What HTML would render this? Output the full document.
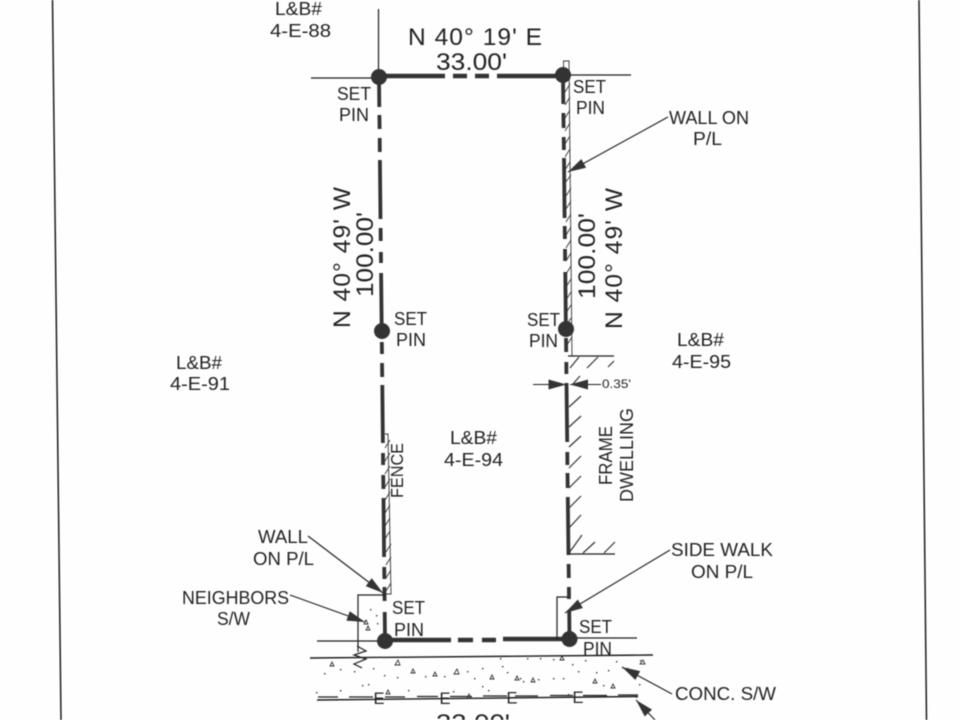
<!DOCTYPE html>
<html>
<head>
<meta charset="utf-8">
<style>
html,body{margin:0;padding:0;background:#fff;width:960px;height:720px;overflow:hidden}
svg{display:block;filter:blur(.5px)}
text{font-family:"Liberation Sans","DejaVu Sans",sans-serif;fill:#222;font-size:18.5px}
.b{font-size:24.5px}
.m{fill:none;stroke:#333;stroke-width:3.8;stroke-linecap:butt}
.t{fill:none;stroke:#1c1c1c;stroke-width:1.2}
.h{fill:none;stroke:#333;stroke-width:.9}
.a{fill:none;stroke:#1c1c1c;stroke-width:1.1;marker-end:url(#ar)}
.p{fill:#333}
.tr{fill:none;stroke:#333;stroke-width:.9}
</style>
</head>
<body>
<svg width="960" height="720" viewBox="0 0 960 720" xmlns="http://www.w3.org/2000/svg">
<defs>
<marker id="ar" markerUnits="userSpaceOnUse" markerWidth="20" markerHeight="12" refX="18" refY="5" orient="auto">
<path d="M0 0L18 5L0 10Z" fill="#333"/>
</marker>
</defs>
<rect width="960" height="720" fill="#fefefe"/>

<!-- page border -->
<path class="t" style="stroke-width:1.5" d="M52.5 0L61 720M919 0L926.5 720"/>

<!-- thin reference lines -->
<path class="t" d="M378.5 9V77M311 78H379M563 75H631M317 641H385M570 638H637"/>
<path class="t" style="stroke-width:1.4" d="M310 658L653 655"/>
<path class="t" style="stroke-width:1.4" d="M317 700L638 696.5"/>
<path class="t" d="M318 697H338M349 697H373M385 697H405M417 696.5H438M450 696.5H472M483 696H507M515 696H538M550 695.5H573M583 695.5H607M618 695H638"/>

<!-- boundary dashes -->
<path class="m" style="stroke-width:4.4" d="M379 76H445M453 76H467M475 76H489M497 76H563"/>
<path class="m" style="stroke-width:4.4" d="M385 640H451M458 640H473M482 640H496M503 639H569.5"/>
<path class="m" d="M379 77L379.3 107M379.4 115L379.6 129M379.7 138L379.8 152M379.9 160L380.5 219M380.6 228L380.7 241M380.9 252L381 263M381.1 273L381.7 330M381.8 342L382 354M382 363L382.2 377M382.3 385L382.9 443M383 453L383.1 465M383.2 475L383.4 489M383.5 498L384.1 557M384.2 567L384.4 579M384.4 587L384.6 601M384.7 612L385 640"/>
<path class="m" d="M563 75L563.3 104M563.4 113L563.6 128M563.7 137L563.9 150M564 158L564.6 218M564.7 226L564.9 239M565 249L565.1 261M565.3 272L565.9 329M566 338L566.2 352M566.3 362L566.4 374M566.5 383L567.2 442M567.3 452L567.4 465M567.5 473L567.7 488M567.8 497L568.5 555M568.6 564L568.8 578M568.9 587L569 599M569.2 610L569.5 639"/>

<!-- right wall -->
<path class="h" d="M563.5 75V61H569L572 356H568"/>
<path class="h" d="M565 92l5-8M565 105l5-8M565 118l5-8M565 131l5-8M565 144l5-8M565 157l5-8M565 170l5-8M565 183l6-8M566 196l5-8M566 209l5-8M566 222l5-8M566 235l5-8M566 248l5-8M566 261l5-8M566 274l5-8M566 287l5-8M566 300l5-8M566 313l5-8M566 326l5-8M567 345l5-8"/>

<!-- fence -->
<path class="h" d="M385 434H388L391 594H385"/>
<path class="h" d="M385 448l5-8M385 461l5-8M385 474l5-8M385 487l5-8M385 500l5-8M385 513l5-8M385 526l5-8M385 539l5-8M386 552l5-8M386 565l5-8M386 578l5-8M386 591l5-8"/>

<!-- dwelling -->
<path class="t" d="M568 356H614M569 554H615"/>
<path class="h" style="stroke-width:1.2" d="M570 368L579 357M587 368L598 357M608 367L614 361M572 385L580 376M569 407L581 396M569 427L581 416M569 447L581 436M569 468L581 456M569 488L581 476M569 508L581 496M569 528L581 515M569 553L582 535M583 553L595 542M604 553L615 542"/>

<!-- small boxes -->
<path class="t" d="M385 595H358V652"/>
<path class="t" d="M357 646L366 651L354 655L366 659L354 664L362 668"/>
<path class="t" d="M568 597H557V639"/>

<!-- pins -->
<circle class="p" cx="379" cy="77" r="8"/>
<circle class="p" cx="563" cy="75" r="8"/>
<circle class="p" cx="382" cy="331" r="8"/>
<circle class="p" cx="566" cy="329" r="8"/>
<circle class="p" cx="385" cy="641" r="8"/>
<circle class="p" cx="569.5" cy="639" r="8"/>

<!-- leaders -->
<path class="a" d="M668 117L568 172"/>
<path class="a" d="M308 536L383 593"/>
<path class="a" d="M290 595L365 622"/>
<path class="a" d="M670 550L565 613"/>
<path class="a" d="M672 694L622 667"/>
<path class="a" d="M655 720L636 700"/>
<path class="a" d="M533 384.500H566.500"/>
<path class="a" d="M601 384.500H570"/>

<!-- concrete speckle -->
<g class="tr">
<path d="M332 662l2 4h-4zM398 660l2 5h-5zM413 669l2 4h-4zM435 672l2 4h-4zM457 669l2 5h-5zM492 675l2 4h-4zM533 678l2 4h-4zM562 656l2 4h-4zM643 660l2 4h-5zM595 679l2 4h-4zM613 684l2 4h-4zM388 690l2 4h-4zM469 694l2 4h-4zM517 676l2 4h-4zM366 620l2 4h-4zM368 626l2 4h-4z"/>
</g>
<g fill="#333">
<rect x="324" y="673" width="1.400" height="1.400"/><rect x="340" y="669" width="1.400" height="1.400"/><rect x="354" y="671" width="1.400" height="1.400"/><rect x="373" y="668" width="1.400" height="1.400"/><rect x="384" y="675" width="1.400" height="1.400"/><rect x="397" y="677" width="1.400" height="1.400"/><rect x="425" y="676" width="1.400" height="1.400"/><rect x="444" y="676" width="1.400" height="1.400"/><rect x="467" y="671" width="1.400" height="1.400"/><rect x="474" y="678" width="1.400" height="1.400"/><rect x="482" y="668" width="1.400" height="1.400"/><rect x="502" y="666" width="1.400" height="1.400"/><rect x="507" y="672" width="1.400" height="1.400"/><rect x="520" y="678" width="1.400" height="1.400"/><rect x="523" y="681" width="1.400" height="1.400"/><rect x="538" y="679" width="1.400" height="1.400"/><rect x="553" y="678" width="1.400" height="1.400"/><rect x="563" y="678" width="1.400" height="1.400"/><rect x="578" y="671" width="1.400" height="1.400"/><rect x="596" y="672" width="1.400" height="1.400"/><rect x="608" y="670" width="1.400" height="1.400"/><rect x="616" y="661" width="1.400" height="1.400"/><rect x="622" y="667" width="1.400" height="1.400"/><rect x="627" y="668" width="1.400" height="1.400"/><rect x="639" y="684" width="1.400" height="1.400"/><rect x="572" y="664" width="1.400" height="1.400"/><rect x="553" y="659" width="1.400" height="1.400"/><rect x="540" y="658" width="1.400" height="1.400"/><rect x="527" y="658" width="1.400" height="1.400"/><rect x="500" y="658" width="1.400" height="1.400"/><rect x="316" y="692" width="1.400" height="1.400"/><rect x="340" y="690" width="1.400" height="1.400"/><rect x="362" y="685" width="1.400" height="1.400"/><rect x="368" y="684" width="1.400" height="1.400"/><rect x="408" y="690" width="1.400" height="1.400"/><rect x="453" y="691" width="1.400" height="1.400"/><rect x="482" y="686" width="1.400" height="1.400"/><rect x="488" y="690" width="1.400" height="1.400"/><rect x="568" y="694" width="1.400" height="1.400"/><rect x="640" y="660" width="1.400" height="1.400"/><rect x="370" y="609" width="1.400" height="1.400"/><rect x="376" y="615" width="1.400" height="1.400"/><rect x="377" y="623" width="1.400" height="1.400"/><rect x="603" y="685" width="1.400" height="1.400"/><rect x="585" y="660" width="1.400" height="1.400"/>
</g>

<!-- E markers -->
<text x="373.500" y="704" style="font-size:16.500px">E</text>
<text x="439.500" y="704" style="font-size:16.500px">E</text>
<text x="506.500" y="703.500" style="font-size:16.500px">E</text>
<text x="572.500" y="703" style="font-size:16.500px">E</text>

<!-- labels -->
<text x="275" y="15" textLength="47" lengthAdjust="spacingAndGlyphs">L&amp;B#</text>
<text x="270" y="37" textLength="61" lengthAdjust="spacingAndGlyphs">4-E-88</text>
<text class="b" x="408" y="45" textLength="134" lengthAdjust="spacing">N 40° 19' E</text>
<text class="b" x="436" y="70" textLength="71" lengthAdjust="spacingAndGlyphs">33.00'</text>
<text x="337" y="100" textLength="34" lengthAdjust="spacingAndGlyphs">SET</text>
<text x="339" y="121" textLength="30" lengthAdjust="spacingAndGlyphs">PIN</text>
<text x="573" y="93" textLength="33" lengthAdjust="spacingAndGlyphs">SET</text>
<text x="576" y="114" textLength="29" lengthAdjust="spacingAndGlyphs">PIN</text>
<text x="669" y="124" textLength="80" lengthAdjust="spacingAndGlyphs">WALL ON</text>
<text x="693" y="145" textLength="29" lengthAdjust="spacingAndGlyphs">P/L</text>
<text x="394" y="325" textLength="33" lengthAdjust="spacingAndGlyphs">SET</text>
<text x="396" y="346" textLength="30" lengthAdjust="spacingAndGlyphs">PIN</text>
<text x="527" y="326" textLength="33" lengthAdjust="spacingAndGlyphs">SET</text>
<text x="529" y="347" textLength="29" lengthAdjust="spacingAndGlyphs">PIN</text>
<text x="677" y="346" textLength="47" lengthAdjust="spacingAndGlyphs">L&amp;B#</text>
<text x="672" y="368" textLength="59" lengthAdjust="spacingAndGlyphs">4-E-95</text>
<text x="176" y="369" textLength="46" lengthAdjust="spacingAndGlyphs">L&amp;B#</text>
<text x="170" y="390" textLength="60" lengthAdjust="spacingAndGlyphs">4-E-91</text>
<text x="450" y="444" textLength="47" lengthAdjust="spacingAndGlyphs">L&amp;B#</text>
<text x="444" y="466" textLength="59" lengthAdjust="spacingAndGlyphs">4-E-94</text>
<text x="602" y="388" style="font-size:12px" textLength="29" lengthAdjust="spacingAndGlyphs">0.35'</text>
<text x="258" y="543" textLength="50" lengthAdjust="spacingAndGlyphs">WALL</text>
<text x="253" y="565" textLength="61" lengthAdjust="spacingAndGlyphs">ON P/L</text>
<text x="182" y="604" textLength="107" lengthAdjust="spacingAndGlyphs">NEIGHBORS</text>
<text x="217" y="625" textLength="33" lengthAdjust="spacingAndGlyphs">S/W</text>
<text x="392" y="614" textLength="33" lengthAdjust="spacingAndGlyphs">SET</text>
<text x="394" y="636" textLength="30" lengthAdjust="spacingAndGlyphs">PIN</text>
<text x="579" y="633" textLength="33" lengthAdjust="spacingAndGlyphs">SET</text>
<text x="583" y="655" textLength="29" lengthAdjust="spacingAndGlyphs">PIN</text>
<text x="671" y="556" textLength="102" lengthAdjust="spacingAndGlyphs">SIDE WALK</text>
<text x="691" y="578" textLength="62" lengthAdjust="spacingAndGlyphs">ON P/L</text>
<text x="675" y="700" textLength="101" lengthAdjust="spacingAndGlyphs">CONC. S/W</text>
<text class="b" x="436" y="731" textLength="74" lengthAdjust="spacingAndGlyphs">33.00'</text>

<!-- rotated labels -->
<text class="b" transform="translate(350 328) rotate(-90)" textLength="141" lengthAdjust="spacing">N 40° 49' W</text>
<text class="b" transform="translate(373 297) rotate(-90)" textLength="85" lengthAdjust="spacingAndGlyphs">100.00'</text>
<text class="b" transform="translate(595 299) rotate(-90)" textLength="86" lengthAdjust="spacingAndGlyphs">100.00'</text>
<text class="b" transform="translate(622 329) rotate(-90)" textLength="141" lengthAdjust="spacing">N 40° 49' W</text>
<text style="font-size:17.500px" transform="translate(403 498) rotate(-90)" textLength="55" lengthAdjust="spacingAndGlyphs">FENCE</text>
<text transform="translate(612 485) rotate(-90)" textLength="59" lengthAdjust="spacingAndGlyphs">FRAME</text>
<text transform="translate(633 502) rotate(-90)" textLength="94" lengthAdjust="spacingAndGlyphs">DWELLING</text>
</svg>
</body>
</html>
